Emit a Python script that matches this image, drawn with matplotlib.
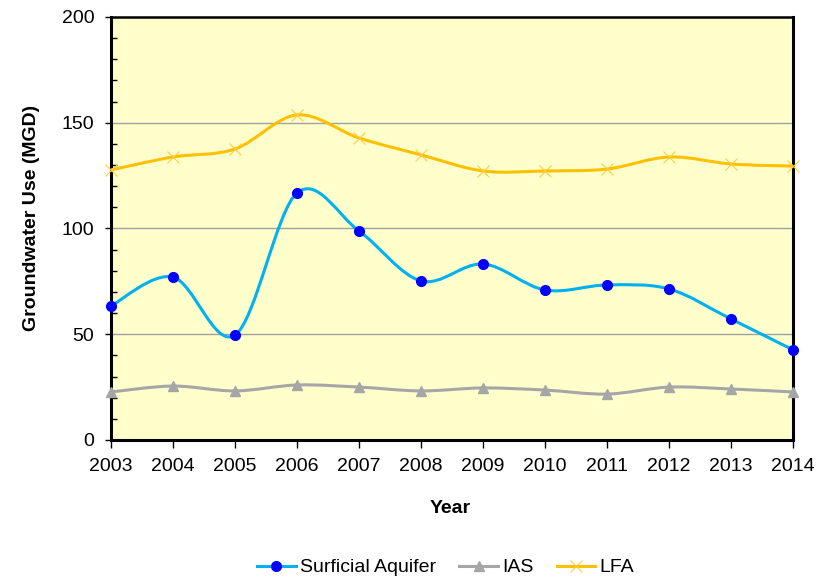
# -*- coding:utf-8 -*-

import numpy as np
import matplotlib
matplotlib.use("Agg")
import matplotlib.pyplot as plt
from matplotlib.path import Path
from matplotlib.patches import PathPatch
from matplotlib.lines import Line2D
from matplotlib.ticker import MultipleLocator

plt.rcParams['font.family'] = ['Liberation Sans', 'DejaVu Sans']

years = [2003, 2004, 2005, 2006, 2007, 2008, 2009, 2010, 2011, 2012, 2013, 2014]
surficial = [63.4, 77.0, 49.6, 116.8, 98.8, 75.2, 83.2, 70.9, 73.3, 71.4, 57.2, 42.6]
ias = [22.7, 25.5, 23.2, 26.0, 25.0, 23.2, 24.6, 23.6, 21.7, 25.0, 24.1, 22.7]
lfa = [127.7, 133.8, 137.6, 153.7, 142.8, 134.8, 127.2, 127.2, 128.1, 133.8, 130.5, 129.5]


def smooth_path(x, y):
    # excel style smoothed line: catmull-rom segments as cubic beziers
    pts = np.column_stack([x, y]).astype(float)
    ext = np.vstack([pts[0], pts, pts[-1]])
    verts = [pts[0]]
    codes = [Path.MOVETO]
    for i in range(1, len(ext) - 2):
        p0, p1, p2, p3 = ext[i - 1], ext[i], ext[i + 1], ext[i + 2]
        verts += [p1 + (p2 - p0) / 6.0, p2 - (p3 - p1) / 6.0, p2]
        codes += [Path.CURVE4] * 3
    return Path(verts, codes)


def draw_series(ax, x, y, line_color, marker, marker_color, ms, mew=1.0):
    ax.add_patch(PathPatch(smooth_path(x, y), facecolor="none", edgecolor=line_color,
                           linewidth=2.2, zorder=3, clip_on=False))
    ax.plot(x, y, linestyle="none", marker=marker, color=marker_color, markersize=ms,
            markeredgewidth=mew, zorder=4, clip_on=False)
    return Line2D([], [], color=line_color, linewidth=2.2, marker=marker,
                  markerfacecolor=marker_color, markeredgecolor=marker_color,
                  markersize=ms, markeredgewidth=mew)


fig = plt.figure(figsize=(8.31, 5.78), dpi=100)
ax = fig.add_axes([0.1336, 0.2388, 0.8207, 0.7318])
ax.set_facecolor("#FFFFCC")

h1 = draw_series(ax, years, surficial, "#00B0F0", "o", "#0000FF", 7)
h2 = draw_series(ax, years, ias, "#A6A6A6", "^", "#A6A6A6", 7.5)
h3 = draw_series(ax, years, lfa, "#FFC000", "x", "#FFCC40", 9, 0.8)

ax.set_xlim(2003, 2014)
ax.set_ylim(0, 200)
ax.set_xticks(years)
ax.yaxis.set_major_locator(MultipleLocator(50))
ax.yaxis.set_minor_locator(MultipleLocator(10))
ax.grid(axis="y", which="major", color="#A0A0A0", linewidth=1.0, zorder=1)
ax.set_axisbelow(True)

for s in ax.spines.values():
    s.set_linewidth(2.2)
    s.set_color("black")
ax.spines["top"].set_linewidth(1.8)

ax.tick_params(axis="x", direction="out", length=6, width=1, pad=7, labelsize=14)
ax.tick_params(axis="y", which="major", direction="out", length=4, width=1, pad=8, labelsize=14)
ax.tick_params(axis="y", which="minor", direction="in", length=4, width=1)

ax.set_ylabel("Groundwater Use (MGD)", fontsize=14, weight="bold")
ax.yaxis.set_label_coords(-0.104, 0.525)
ax.set_xlabel("Year", fontsize=14, weight="bold")
ax.xaxis.set_label_coords(0.497, -0.142)

fig.legend([h1, h2, h3], ["Surficial Aquifer", "IAS", "LFA"], loc="center",
           bbox_to_anchor=(0.536, 0.018), ncol=3, frameon=False, fontsize=14,
           handlelength=2.0, handletextpad=0.2, columnspacing=1.2)

plt.savefig("out.png", dpi=100)
